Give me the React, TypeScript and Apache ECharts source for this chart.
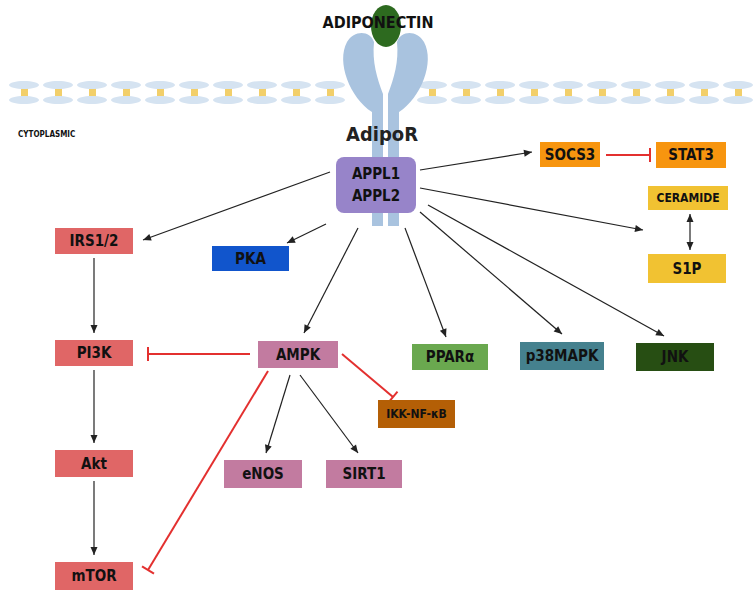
import { useEffect, useRef } from 'react';
import * as echarts from 'echarts';

// boxes: x1, y1, x2, y2, label, fill, text colour
const boxes: [number, number, number, number, string, string, string][] = [
  [336, 157, 416, 213, 'APPL1\nAPPL2', '#9784c9', '#111'],
  [540, 142, 600, 167, 'SOCS3', '#f7950f', '#111'],
  [656, 142, 726, 168, 'STAT3', '#f7950f', '#111'],
  [648, 186, 728, 210, 'CERAMIDE', '#f1c232', '#111'],
  [648, 254, 726, 283, 'S1P', '#f1c232', '#111'],
  [55, 228, 133, 254, 'IRS1/2', '#e06666', '#111'],
  [212, 246, 289, 271, 'PKA', '#1155cc', '#111'],
  [55, 340, 133, 366, 'PI3K', '#e06666', '#111'],
  [258, 341, 338, 368, 'AMPK', '#c27ba0', '#111'],
  [412, 344, 488, 370, 'PPARα', '#6aa84f', '#111'],
  [520, 342, 604, 370, 'p38MAPK', '#45818e', '#111'],
  [636, 343, 714, 371, 'JNK', '#274e13', '#111'],
  [378, 400, 455, 428, 'IKK-NF-κB', '#b45f06', '#111'],
  [224, 460, 302, 488, 'eNOS', '#c27ba0', '#111'],
  [326, 460, 402, 488, 'SIRT1', '#c27ba0', '#111'],
  [55, 450, 133, 477, 'Akt', '#e06666', '#111'],
  [55, 562, 133, 590, 'mTOR', '#e06666', '#111'],
];

// edges: x1, y1, x2, y2, kind (0 arrow, 1 inhibit, 2 double arrow)
const edges: [number, number, number, number, number][] = [
  [420, 170, 532, 152, 0],
  [606, 155, 650, 155, 1],
  [330, 172, 143, 240, 0],
  [326, 224, 287, 243, 0],
  [420, 188, 643, 230, 0],
  [690, 214, 690, 250, 2],
  [358, 228, 304, 333, 0],
  [405, 228, 446, 337, 0],
  [420, 212, 562, 334, 0],
  [428, 205, 664, 336, 0],
  [94, 258, 94, 333, 0],
  [94, 370, 94, 443, 0],
  [94, 481, 94, 555, 0],
  [250, 354, 148, 354, 1],
  [342, 354, 393, 397, 1],
  [268, 371, 148, 570, 1],
  [290, 375, 266, 453, 0],
  [300, 375, 358, 453, 0],
];

const beadX: number[] = [];
for (let x = 24; x < 755; x += 34) if (x < 340 || x > 425) beadX.push(x);

const FONT = "'Liberation Sans Narrow', 'DejaVu Sans Condensed', 'Noto Sans', sans-serif";

const armPath =
  'M 383 226 L 372 226 L 372 112 C 350 98 336 62 347 42 C 354 30 370 30 374 42 C 372 62 377 78 383 94 Z';
echarts.graphic.registerShape('arm', echarts.graphic.extendPath(armPath, {}) as any);

const smallFont = (s: string) => (s === 'CERAMIDE' || s === 'IKK-NF-κB' ? 12 : 15);

export default function App() {
  const ref = useRef<HTMLDivElement>(null);

  useEffect(() => {
    if (!ref.current) return;
    document.body.style.margin = '0';
    const chart = echarts.init(ref.current, null, { renderer: 'svg' });

    const membrane: any[] = [];
    beadX.forEach((x) => {
      membrane.push({ type: 'rect', shape: { x: x - 3, y: 86, width: 7, height: 13 }, style: { fill: '#f2cf6a' }, z: 1 });
      membrane.push({ type: 'ellipse', shape: { cx: x, cy: 85, rx: 15, ry: 4 }, style: { fill: '#d5e3f1' }, z: 2 });
      membrane.push({ type: 'ellipse', shape: { cx: x, cy: 100, rx: 15, ry: 4 }, style: { fill: '#d5e3f1' }, z: 2 });
    });

    chart.setOption({
      animation: false,
      grid: { left: 0, right: 0, top: 0, bottom: 0 },
      xAxis: { type: 'value', min: 0, max: 755, show: false },
      yAxis: { type: 'value', min: 0, max: 610, inverse: true, show: false },
      graphic: [
        ...membrane,
        { type: 'arm', style: { fill: '#a9c3df' }, z: 3 },
        { type: 'arm', x: 771, scaleX: -1, style: { fill: '#a9c3df' }, z: 3 },
        { type: 'ellipse', shape: { cx: 386, cy: 26, rx: 15, ry: 21 }, style: { fill: '#2d6a1f' }, z: 4 },
        { type: 'text', x: 378, y: 22, z: 5, style: { text: 'ADIPONECTIN', fill: '#111', font: `bold 16px ${FONT}`, align: 'center', verticalAlign: 'middle' } },
        { type: 'text', x: 382, y: 134, z: 5, style: { text: 'AdipoR', fill: '#222', font: `bold 20px ${FONT}`, align: 'center', verticalAlign: 'middle' } },
        { type: 'text', x: 18, y: 134, z: 5, style: { text: 'CYTOPLASMIC', fill: '#111', font: `bold 8px ${FONT}`, verticalAlign: 'middle' } },
      ],
      series: [
        {
          type: 'custom',
          data: edges,
          z: 4,
          renderItem: (_p: any, api: any) => {
            const a = api.coord([api.value(0), api.value(1)]);
            const b = api.coord([api.value(2), api.value(3)]);
            const kind = api.value(4);
            const dx = b[0] - a[0], dy = b[1] - a[1];
            const len = Math.hypot(dx, dy);
            const ux = dx / len, uy = dy / len;
            const color = kind === 1 ? '#e3302f' : '#222';
            const head = (p: number[], sx: number, sy: number) => ({
              type: 'polygon',
              shape: { points: [p, [p[0] - sx * 8 - sy * 3.5, p[1] - sy * 8 + sx * 3.5], [p[0] - sx * 8 + sy * 3.5, p[1] - sy * 8 - sx * 3.5]] },
              style: { fill: color },
            });
            const children: any[] = [
              { type: 'line', shape: { x1: a[0], y1: a[1], x2: b[0], y2: b[1] }, style: { stroke: color, lineWidth: kind === 1 ? 2 : 1.2 } },
            ];
            if (kind === 1) {
              children.push({ type: 'line', shape: { x1: b[0] - uy * 7, y1: b[1] + ux * 7, x2: b[0] + uy * 7, y2: b[1] - ux * 7 }, style: { stroke: color, lineWidth: 2 } });
            } else {
              children.push(head(b, ux, uy));
              if (kind === 2) children.push(head(a, -ux, -uy));
            }
            return { type: 'group', children };
          },
        },
        {
          type: 'custom',
          data: boxes,
          z: 5,
          renderItem: (p: any, api: any) => {
            const a = api.coord([api.value(0), api.value(1)]);
            const b = api.coord([api.value(2), api.value(3)]);
            const row = boxes[p.dataIndex];
            const big = row[4].includes('\n');
            return {
              type: 'rect',
              shape: { x: a[0], y: a[1], width: b[0] - a[0], height: b[1] - a[1], r: big ? 8 : 0 },
              style: { fill: row[5] },
              textContent: {
                style: { text: row[4], fill: row[6], font: `bold ${smallFont(row[4])}px ${FONT}`, lineHeight: 22, align: 'center', verticalAlign: 'middle' },
              },
              textConfig: { position: 'inside' },
            };
          },
        },
      ],
    });
    return () => chart.dispose();
  }, []);

  return <div ref={ref} style={{ width: 755, height: 610 }} />;
}
